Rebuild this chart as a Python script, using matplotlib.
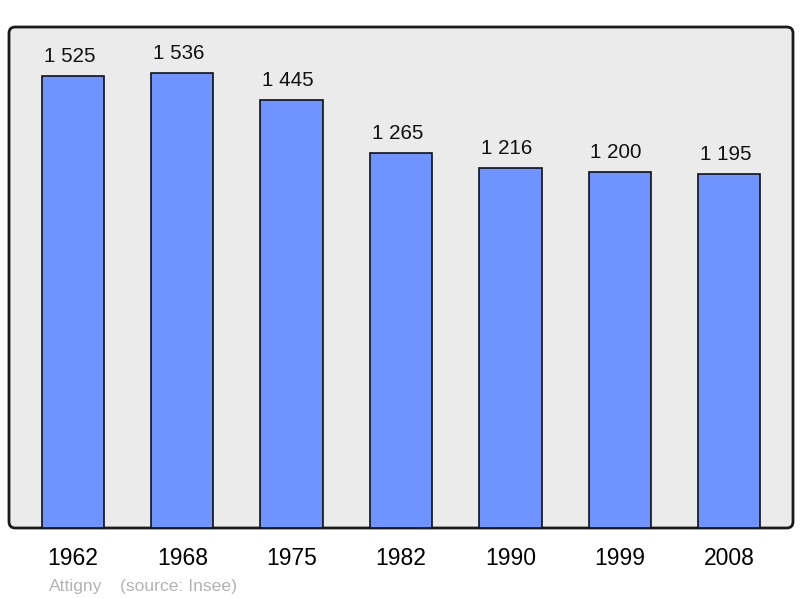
import matplotlib
matplotlib.use("Agg")
import matplotlib.pyplot as plt
from matplotlib.patches import FancyBboxPatch
from matplotlib.transforms import ScaledTranslation

years = ["1962", "1968", "1975", "1982", "1990", "1999", "2008"]
population = [1525, 1536, 1445, 1265, 1216, 1200, 1195]
value_labels = ["1 525", "1 536", "1 445", "1 265", "1 216", "1 200", "1 195"]

plt.rcParams['font.family'] = ['Liberation Sans', 'DejaVu Sans']

fig = plt.figure(figsize=(8, 5.98), dpi=100)
ax = fig.add_axes([9/800, 70/598, 784/800, 501/598])
ax.set_facecolor('none')
for s in ax.spines.values():
    s.set_visible(False)

bg = FancyBboxPatch((0, 0), 1, 1, boxstyle="round,pad=0,rounding_size=0.008",
                    transform=ax.transAxes, facecolor='#ebebeb', edgecolor='#1a1a1a',
                    linewidth=2, zorder=0, clip_on=False, mutation_aspect=784/501)
ax.add_patch(bg)

x = list(range(len(years)))
bars = ax.bar(x, population, width=0.57, color='#7094ff', edgecolor='#111111',
              linewidth=1.2, zorder=2)
ax.set_xlim(-0.585, 6.585)
ax.set_ylim(0, 1691)

shift = ax.transData + ScaledTranslation(-3.5/100, 0, fig.dpi_scale_trans)
for xi, v, lab in zip(x, population, value_labels):
    ax.text(xi, v + 48, lab, ha='center', va='baseline', fontsize=14.8,
            color='#111111', transform=shift)

ax.set_xticks(x)
ax.set_xticklabels(years, fontsize=16.5)
ax.tick_params(axis='x', length=0, pad=14)
ax.set_yticks([])

fig.text(49/800, 1 - 590.5/598, "Attigny", fontsize=12.6, color='#b3b3b3', va='baseline')
fig.text(120/800, 1 - 590.5/598, "(source: Insee)", fontsize=12.6, color='#b3b3b3', va='baseline')

fig.savefig("out.png", dpi=100)
